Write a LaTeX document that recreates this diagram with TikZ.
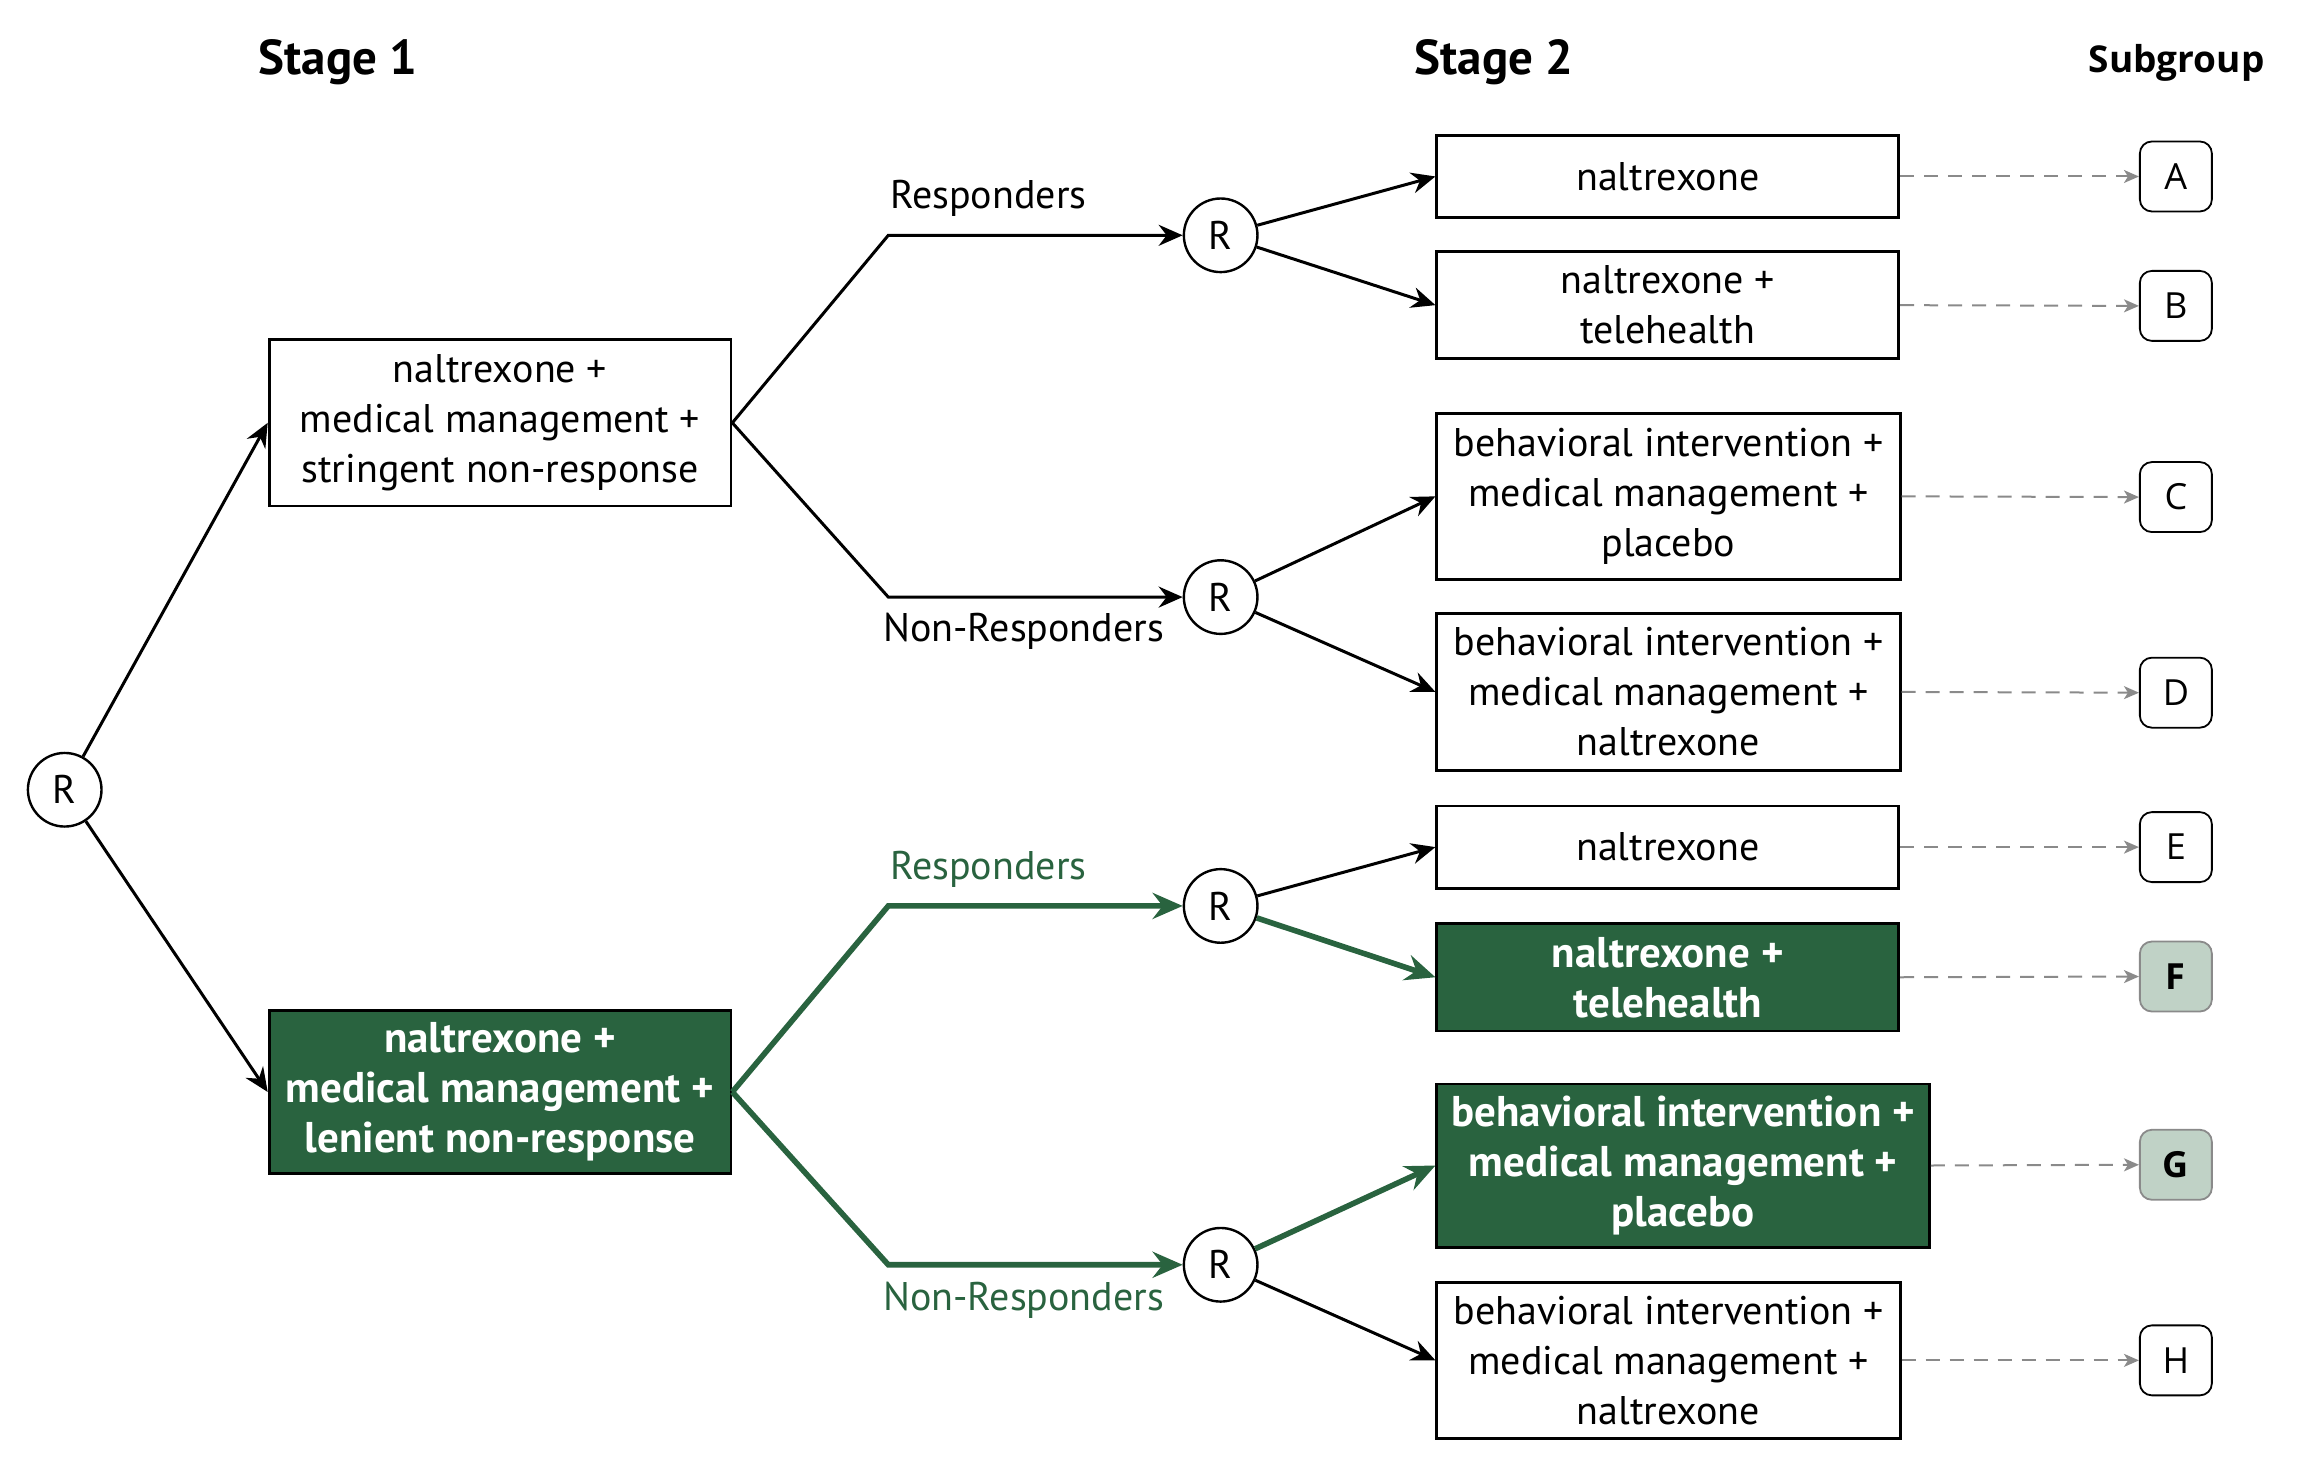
\documentclass[tikz,border=0pt]{standalone}
\usepackage{fontspec}
\setmainfont{PT Sans}
\newfontfamily\opensans{Open Sans}
\usetikzlibrary{arrows.meta}
\definecolor{dkgreen}{HTML}{29633F}
\definecolor{ltgreen}{HTML}{C0D2C6}
\definecolor{dashgray}{HTML}{8A8A8A}
\begin{document}
\begin{tikzpicture}[x=0.7353pt,y=-0.7353pt,
  font=\fontsize{20}{25}\selectfont,
  box/.style={draw=black, line width=1.4pt, fill=white, align=center, inner sep=0pt, minimum width=230.9pt},
  gbox/.style={box, fill=dkgreen, text=white, font=\fontsize{21.5}{25}\selectfont\bfseries},
  rnode/.style={circle, draw=black, line width=1.2pt, fill=white, minimum size=36.8pt, inner sep=0pt},
  sub/.style={draw=black, line width=0.9pt, rounded corners=6pt, fill=white, minimum width=36pt, minimum height=35pt, inner sep=0pt, font=\opensans\fontsize{18}{20}\selectfont},
  gsub/.style={sub, draw=dashgray, fill=ltgreen, font=\opensans\bfseries\fontsize{18}{20}\selectfont},
  head/.style={font=\bfseries\fontsize{24.5}{28}\selectfont},
  blk/.style={draw=black, line width=1.5pt, -{Stealth[length=12pt,width=10.5pt,inset=4pt]}},
  grn/.style={draw=dkgreen, line width=2.8pt, -{Stealth[length=15pt,width=13pt,inset=5pt]}},
  dsh/.style={draw=dashgray, line width=1pt, dash pattern=on 7pt off 5pt, -{Stealth[length=7.5pt,width=6.5pt,inset=2pt]}},
  lbl/.style={inner sep=0pt}
]
\useasboundingbox (0,0) rectangle (1568,998);
% headings
\node[head] (h1) at (230,42) {Stage 1};
\node[head] (h2) at (1016,42) {Stage 2};
\node[font=\opensans\bfseries\fontsize{18.5}{20}\selectfont] (h3) at (1480,43) {Subgroup};
% root
\node[rnode] (root) at (44,537) {R};
% stage 1
\node[box, minimum height=83.1pt] (s1a) at (340,287.5) {naltrexone +\\medical management +\\stringent non-response};
\node[gbox, minimum height=81.6pt] (s1b) at (340,742.5) {naltrexone +\\medical management +\\lenient non-response};
% second randomisations
\node[rnode] (r1) at (830,160) {R};
\node[rnode] (r2) at (830,406) {R};
\node[rnode] (r3) at (830,616) {R};
\node[rnode] (r4) at (830,860) {R};
\coordinate (k1) at (604,160);
\coordinate (k2) at (604,406);
\coordinate (k3) at (604,616);
\coordinate (k4) at (604,860);
% stage 2 boxes
\node[box, minimum height=41.2pt] (ba) at (1134,120) {naltrexone};
\node[box, minimum height=53.7pt] (bb) at (1134,207.5) {naltrexone +\\telehealth};
\node[box, minimum width=231.6pt, minimum height=83.1pt] (bc) at (1134.5,337.5) {behavioral intervention +\\medical management +\\placebo};
\node[box, minimum width=231.6pt, minimum height=78.7pt] (bd) at (1134.5,470.5) {behavioral intervention +\\medical management +\\naltrexone};
\node[box, minimum height=41.2pt] (be) at (1134,576) {naltrexone};
\node[gbox, minimum height=53.7pt] (bf) at (1134,664.5) {naltrexone +\\telehealth};
\node[gbox, minimum width=246.3pt, minimum height=81.6pt] (bg) at (1144.5,792.5) {behavioral intervention +\\medical management +\\placebo};
\node[box, minimum width=231.6pt, minimum height=78pt] (bh) at (1134.5,925) {behavioral intervention +\\medical management +\\naltrexone};
% subgroups
\node[sub] (sa) at (1479.5,120) {A};
\node[sub] (sb) at (1479.5,208) {B};
\node[sub] (sc) at (1479.5,338) {C};
\node[sub] (sd) at (1479.5,471) {D};
\node[sub] (se) at (1479.5,576) {E};
\node[gsub] (sf) at (1479.5,664) {F};
\node[gsub] (sg) at (1479.5,792) {G};
\node[sub] (sh) at (1479.5,925) {H};
% stage 1 arrows
\draw[blk] (root) -- (s1a.west);
\draw[blk] (root) -- (s1b.west);
% responder branches
\draw[blk] (s1a.east) -- (k1) -- (r1);
\draw[blk] (s1a.east) -- (k2) -- (r2);
\draw[grn] (s1b.east) -- (k3) -- (r3);
\draw[grn] (s1b.east) -- (k4) -- (r4);
\node[lbl] (l1) at (672,135) {Responders};
\node[lbl] (l2) at (696,429) {Non-Responders};
\node[lbl, text=dkgreen] (l3) at (672,591) {Responders};
\node[lbl, text=dkgreen] (l4) at (696,884) {Non-Responders};
% stage 2 arrows
\draw[blk] (r1) -- (ba.west);
\draw[blk] (r1) -- (bb.west);
\draw[blk] (r2) -- (bc.west);
\draw[blk] (r2) -- (bd.west);
\draw[blk] (r3) -- (be.west);
\draw[grn] (r3) -- (bf.west);
\draw[grn] (r4) -- (bg.west);
\draw[blk] (r4) -- (bh.west);
% dashed to subgroups
\draw[dsh] (ba.east) -- (sa.west);
\draw[dsh] (bb.east) -- (sb.west);
\draw[dsh] (bc.east) -- (sc.west);
\draw[dsh] (bd.east) -- (sd.west);
\draw[dsh] (be.east) -- (se.west);
\draw[dsh] (bf.east) -- (sf.west);
\draw[dsh] (bg.east) -- (sg.west);
\draw[dsh] (bh.east) -- (sh.west);
\end{tikzpicture}
\end{document}
